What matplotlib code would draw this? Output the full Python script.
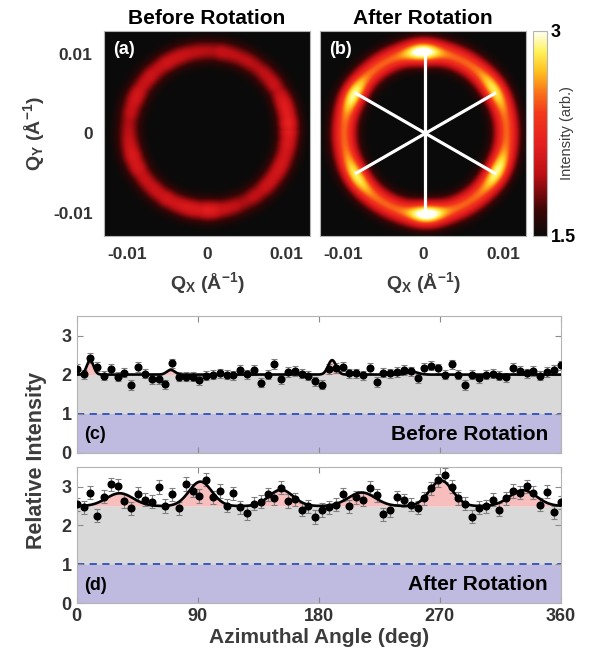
import numpy as np
import matplotlib.pyplot as plt
from matplotlib.colors import LinearSegmentedColormap

plt.rcParams['font.family'] = ['Liberation Sans', 'DejaVu Sans']
plt.rcParams['font.weight'] = 'bold'
plt.rcParams['axes.labelweight'] = 'bold'
plt.rcParams['axes.titleweight'] = 'bold'
plt.rcParams['mathtext.fontset'] = 'custom'
plt.rcParams['mathtext.rm'] = 'Liberation Sans:bold'
plt.rcParams['mathtext.it'] = 'Liberation Sans:bold'
plt.rcParams['mathtext.bf'] = 'Liberation Sans:bold'

# azimuthal profiles, 72 points from 0 to 360 deg
angles = np.linspace(0, 360, 72)

before_vals = [2.15, 2.01, 2.42, 2.20, 1.97, 2.14, 1.95, 2.05, 1.73, 2.19, 2.02, 1.88,
               1.88, 1.75, 2.29, 1.95, 1.95, 1.95, 1.85, 1.97, 2.00, 2.03, 2.00, 1.98,
               2.12, 2.01, 2.12, 1.79, 2.00, 2.27, 1.89, 2.07, 2.09, 2.02, 1.97, 1.83,
               1.74, 2.14, 2.17, 2.20, 2.03, 2.03, 1.98, 2.17, 1.81, 2.05, 2.03, 2.07,
               2.12, 2.08, 1.90, 2.17, 2.23, 2.16, 2.00, 2.26, 2.00, 1.73, 2.00, 1.90,
               2.00, 2.02, 1.97, 1.93, 2.17, 2.10, 2.03, 2.09, 1.97, 2.07, 2.12, 2.24]
after_vals = [2.55, 2.47, 2.84, 2.25, 2.74, 3.06, 3.02, 2.63, 2.44, 2.81, 2.66, 2.61,
              2.99, 2.50, 2.80, 2.44, 3.07, 2.90, 2.76, 3.18, 2.73, 2.89, 2.51, 2.83,
              2.47, 2.32, 2.56, 2.61, 2.80, 2.70, 2.97, 2.63, 2.68, 2.41, 2.49, 2.22,
              2.40, 2.47, 2.54, 2.80, 2.49, 2.73, 2.66, 2.97, 2.78, 2.29, 2.39, 2.73,
              2.65, 2.54, 2.46, 2.70, 2.96, 3.16, 3.30, 3.00, 2.70, 2.56, 2.23, 2.46,
              2.49, 2.66, 2.41, 2.70, 2.89, 2.84, 3.01, 2.85, 2.53, 2.87, 2.34, 2.60]
before_err = 0.12
after_err = 0.17

# gaussian peak fits: (center deg, amplitude, width deg)
before_base = 2.0
before_peaks = [(10, 0.37, 2.5), (70, 0.12, 3.0), (190, 0.37, 3.0), (250, 0.07, 4.0)]
after_base = 2.5
after_peaks = [(32, 0.33, 10), (92, 0.63, 8.5), (152, 0.42, 9),
               (212, 0.35, 10), (271, 0.66, 8.5), (332, 0.41, 10)]


def fit_curve(phi, base, peaks):
    out = np.full_like(phi, base, dtype=float)
    for c, a, w in peaks:
        d = (phi - c + 180) % 360 - 180
        out += a * np.exp(-d ** 2 / (2 * w ** 2))
    return out


cmap = LinearSegmentedColormap.from_list('ring', [
    (0.0, (0.04, 0.04, 0.04)), (0.12, (0.22, 0.02, 0.02)), (0.3, (0.74, 0.06, 0.08)),
    (0.45, (0.9, 0.12, 0.12)), (0.6, (0.95, 0.22, 0.1)), (0.7, (0.98, 0.45, 0.1)),
    (0.8, (1.0, 0.75, 0.12)), (0.9, (1.0, 0.95, 0.35)), (1.0, (1.0, 1.0, 0.98))])

# ring images
q = np.linspace(-0.0129, 0.0129, 301)
QX, QY = np.meshgrid(q, q)


def ring_image(profile_fn, cx, cy, r0, sig):
    r = np.hypot(QX - cx, QY - cy)
    phi = np.degrees(np.arctan2(QY - cy, QX - cx)) % 360
    val = profile_fn(phi)
    return 1.5 + (val - 1.5) * np.exp(-(r - r0) ** 2 / (2 * sig ** 2))


bv = np.array(before_vals)
bsmooth = (np.roll(bv, 2) + np.roll(bv, 1) + bv + np.roll(bv, -1) + np.roll(bv, -2)) / 5
img_a = ring_image(lambda p: np.interp(p, angles, bsmooth, period=360), 0.00015, 0.0003, 0.01, 0.00095)
img_b = ring_image(lambda p: fit_curve(p, after_base, after_peaks), 0.0003, 0.0, 0.0102, 0.00105)

fig = plt.figure(figsize=(5.95, 6.66), dpi=100)
W, H = 595.0, 666.0


def axes_px(x0, y0, x1, y1):
    return fig.add_axes([x0 / W, 1 - y1 / H, (x1 - x0) / W, (y1 - y0) / H])


ax_a = axes_px(103.7, 30.7, 310, 236)
ax_b = axes_px(320, 30.7, 526, 236)
cax = axes_px(533.3, 30.7, 546.7, 236)
ax_c = axes_px(76.7, 316, 560.7, 452.7)
ax_d = axes_px(76.7, 467.3, 560.7, 603)

tick_col = '#333333'
label_col = '#3c3c3c'
spine_col = '#b4b4b4'

for ax, img, title, tag in [(ax_a, img_a, 'Before Rotation', '(a)'), (ax_b, img_b, 'After Rotation', '(b)')]:
    im = ax.imshow(img, origin='lower', extent=[q[0], q[-1], q[0], q[-1]], cmap=cmap,
                   vmin=1.5, vmax=3.0, aspect='auto', interpolation='bilinear')
    ax.set_xticks([-0.01, 0, 0.01])
    ax.set_xticklabels(['-0.01', '0', '0.01'])
    ax.tick_params(labelsize=12.5, colors=tick_col, length=0, pad=8)
    ax.set_title(title, fontsize=15, fontweight='bold', color='black', pad=5)
    ax.set_xlabel(r'Q$_\mathrm{X}$ (Å$^{\mathrm{-1}}$)', fontsize=14, color=label_col, labelpad=6)
    ax.text(0.045, 0.95, tag, transform=ax.transAxes, color='white', fontsize=13,
            fontweight='bold', va='top', ha='left')
    for s in ax.spines.values():
        s.set_color(spine_col)

ax_a.set_yticks([-0.01, 0, 0.01])
ax_a.set_yticklabels(['-0.01', '0', '0.01'])
ax_a.set_ylabel(r'Q$_\mathrm{Y}$ (Å$^{\mathrm{-1}}$)', fontsize=14, color=label_col, labelpad=4)
ax_b.set_yticks([])

# spokes along the six peaks
for c, a, w in after_peaks[:3]:
    t = np.radians(c - 2)
    ax_b.plot([0.0003 - 0.0102 * np.cos(t), 0.0003 + 0.0102 * np.cos(t)],
              [-0.0102 * np.sin(t), 0.0102 * np.sin(t)], color='white', lw=2.3, solid_capstyle='butt')

cb = fig.colorbar(im, cax=cax, ticks=[1.5, 3])
cb.ax.set_yticklabels(['1.5', '3'])
cb.ax.tick_params(labelsize=13, length=0, pad=3, colors='black')
cb.outline.set_edgecolor(spine_col)
fig.text(567 / W, 1 - 133 / H, 'Intensity (arb.)', rotation=90, fontsize=10.5,
         fontweight='normal', color='#3c3c3c', ha='center', va='center')


def draw_profile(ax, vals, err, base, peaks, label, tag):
    xx = np.linspace(0, 360, 1441)
    fit = fit_curve(xx, base, peaks)
    ax.axhspan(0, 1, color='#bfbadf', lw=0, zorder=0)
    ax.fill_between(xx, 1, base, color='#d9d9d9', lw=0, zorder=0)
    ax.fill_between(xx, base, fit, color='#f8bdbd', lw=0, zorder=0)
    ax.axhline(1, color='#2f4fb5', ls=(0, (4, 3)), lw=1.3, zorder=1)
    ax.errorbar(angles, vals, yerr=err, fmt='none', ecolor='#808080', elinewidth=0.8,
                capsize=2.5, capthick=0.8, zorder=2)
    ax.plot(xx, fit, color='black', lw=1.9, zorder=3)
    ax.plot(angles, vals, 'o', color='black', ms=4.8, zorder=4)
    ax.set_xlim(0, 360)
    ax.set_ylim(0, 3.5)
    ax.set_xticks([0, 90, 180, 270, 360])
    ax.set_yticks([0, 1, 2, 3])
    ax.tick_params(direction='in', top=True, right=True, color='#8c8c8c', length=4,
                   labelsize=13, labelcolor=tick_col)
    for s in ax.spines.values():
        s.set_color(spine_col)
    ax.text(0.015, 0.13, tag, transform=ax.transAxes, fontsize=13, fontweight='bold',
            va='center', ha='left')
    ax.text(0.974, 0.135, label, transform=ax.transAxes, fontsize=15, fontweight='bold',
            va='center', ha='right')


draw_profile(ax_c, before_vals, before_err, before_base, before_peaks, 'Before Rotation', '(c)')
draw_profile(ax_d, after_vals, after_err, after_base, after_peaks, 'After Rotation', '(d)')
ax_c.tick_params(labelbottom=False)
ax_d.set_xlabel('Azimuthal Angle (deg)', fontsize=15, color=label_col, labelpad=2)
fig.text(37 / W, 1 - 460 / H, 'Relative Intensity', rotation=90, fontsize=15.5,
         fontweight='bold', color=label_col, ha='center', va='center')

fig.savefig('out.png', dpi=100)
